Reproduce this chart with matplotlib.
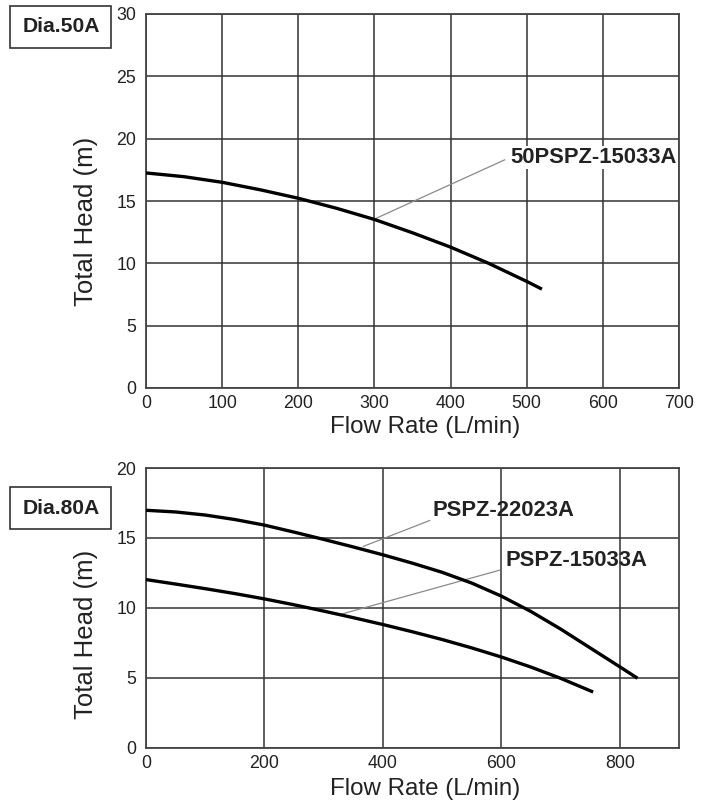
import matplotlib
matplotlib.use("Agg")
import matplotlib.pyplot as plt
from matplotlib.patches import Rectangle

plt.rcParams['font.family'] = ['Liberation Sans', 'DejaVu Sans']

# ---- data: top chart (Dia.50A) ----
top_flow = [0, 50, 100, 150, 200, 250, 300, 350, 400, 450, 500, 520]
top_head = [17.25, 16.95, 16.5, 15.9, 15.22, 14.42, 13.52, 12.45, 11.3, 10.0, 8.55, 7.93]
top_label = "50PSPZ-15033A"
top_xticks = [0, 100, 200, 300, 400, 500, 600, 700]
top_yticks = [0, 5, 10, 15, 20, 25, 30]

# ---- data: bottom chart (Dia.80A) ----
b1_flow = [0, 50, 100, 150, 200, 250, 300, 350, 400, 450, 500, 550, 600, 650, 700, 750, 800, 830]
b1_head = [16.98, 16.86, 16.64, 16.32, 15.92, 15.42, 14.9, 14.36, 13.8, 13.2, 12.55, 11.78,
           10.85, 9.75, 8.5, 7.15, 5.8, 4.98]
b1_label = "PSPZ-22023A"
b2_flow = [0, 50, 100, 150, 200, 250, 300, 350, 400, 450, 500, 550, 600, 650, 700, 755]
b2_head = [12.03, 11.71, 11.38, 11.03, 10.65, 10.23, 9.78, 9.31, 8.82, 8.3, 7.75, 7.15,
           6.5, 5.78, 4.98, 4.0]
b2_label = "PSPZ-15033A"
bot_xticks = [0, 200, 400, 600, 800]
bot_yticks = [0, 5, 10, 15, 20]

W, H = 710, 808
fig = plt.figure(figsize=(W / 100, H / 100), dpi=100)

def px_axes(x0, y0, x1, y1):
    return fig.add_axes([x0 / W, 1 - y1 / H, (x1 - x0) / W, (y1 - y0) / H])

GRID = '#333333'
LEAD = '#8a8a8a'
TXT = '#222222'

def style(ax, xlim, ylim, xticks, yticks, ylab_y, xlab_y):
    ax.set_xlim(*xlim)
    ax.set_ylim(*ylim)
    ax.set_xticks(xticks)
    ax.set_yticks(yticks)
    ax.tick_params(length=0, labelsize=12.8, colors=TXT)
    ax.tick_params(axis='y', pad=7)
    ax.tick_params(axis='x', pad=5)
    ax.grid(True, color=GRID, linewidth=1.1)
    for s in ax.spines.values():
        s.set_color('#444444')
        s.set_linewidth(1.3)
    ax.set_xlabel('Flow Rate (L/min)', fontsize=17.4, color=TXT)
    ax.set_ylabel('Total Head (m)', fontsize=18.5, color=TXT)
    ax.yaxis.set_label_coords(-0.09, ylab_y)
    ax.xaxis.set_label_coords(0.523, xlab_y)

# top
ax1 = px_axes(146, 14, 679, 388)
style(ax1, (0, 700), (0, 30), top_xticks, top_yticks, 0.445, -0.075)
ax1.plot(top_flow, top_head, color='black', linewidth=2.4, solid_capstyle='butt',
         solid_joinstyle='round', zorder=3)
ax1.plot([300, 471], [13.55, 18.3], color=LEAD, linewidth=0.9, zorder=2)
ax1.text(478, 18.5, top_label, fontsize=15.8, fontweight='bold', va='center', ha='left',
         color=TXT, zorder=4,
         bbox=dict(facecolor='white', edgecolor='none', pad=0.5))

# bottom
ax2 = px_axes(146, 468, 679, 748)
style(ax2, (0, 900), (0, 20), bot_xticks, bot_yticks, 0.407, -0.108)
ax2.plot(b1_flow, b1_head, color='black', linewidth=2.4, solid_capstyle='butt',
         solid_joinstyle='round', zorder=3)
ax2.plot(b2_flow, b2_head, color='black', linewidth=2.4, solid_capstyle='butt',
         solid_joinstyle='round', zorder=3)
ax2.plot([367, 479], [14.4, 16.25], color=LEAD, linewidth=0.9, zorder=2)
ax2.plot([329, 597], [9.55, 12.7], color=LEAD, linewidth=0.9, zorder=2)
ax2.text(484, 17.0, b1_label, fontsize=15.8, fontweight='bold', va='center', ha='left',
         color=TXT, zorder=4)
ax2.text(607, 13.4, b2_label, fontsize=15.8, fontweight='bold', va='center', ha='left',
         color=TXT, zorder=4)

# Dia boxes
def dia_box(y0, y1, text):
    fig.patches.append(Rectangle((10 / W, 1 - y1 / H), 101 / W, (y1 - y0) / H,
                                 transform=fig.transFigure, facecolor='white',
                                 edgecolor='#333333', linewidth=1.2))
    fig.text(61.5 / W, 1 - ((y0 + y1) / 2) / H, text, fontsize=15.2, fontweight='bold',
             ha='center', va='center', color=TXT)

dia_box(6, 48, 'Dia.50A')
dia_box(487, 529, 'Dia.80A')

fig.savefig('out.png', dpi=100)
